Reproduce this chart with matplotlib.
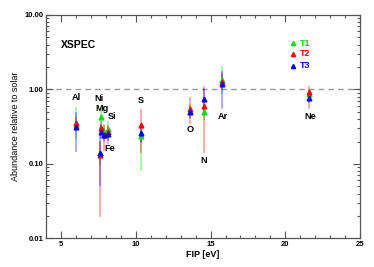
import matplotlib
matplotlib.use("Agg")
import matplotlib.pyplot as plt
from matplotlib.ticker import FixedLocator, LogLocator, MultipleLocator, FixedFormatter

plt.rcParams["font.family"] = ["Liberation Sans", "DejaVu Sans"]

# element, FIP [eV]
elements = ["Al", "Ni", "Mg", "Fe", "Si", "S", "O", "N", "Ar", "Ne"]
fip = [5.99, 7.64, 7.65, 7.87, 8.15, 10.36, 13.62, 14.53, 15.76, 21.56]

# abundances for the three temperature components, with lower / upper limits
t1 = [0.33, 0.14, 0.43, 0.27, 0.295, 0.24, 0.52, 0.50, 1.32, 0.86]
t1_lo = [0.22, 0.10, 0.30, 0.22, 0.22, 0.083, 0.42, 0.40, 0.90, 0.75]
t1_hi = [0.57, 0.20, 0.55, 0.32, 0.37, 0.30, 0.62, 0.62, 1.99, 0.98]

t2 = [0.35, 0.13, 0.30, 0.245, 0.27, 0.33, 0.54, 0.60, 1.27, 0.91]
t2_lo = [0.30, 0.02, 0.25, 0.155, 0.19, 0.146, 0.35, 0.146, 1.00, 0.56]
t2_hi = [0.42, 0.20, 0.36, 0.33, 0.32, 0.53, 0.76, 1.09, 1.60, 1.08]

t3 = [0.31, 0.14, 0.27, 0.245, 0.25, 0.263, 0.50, 0.745, 1.19, 0.776]
t3_lo = [0.15, 0.052, 0.22, 0.21, 0.21, 0.20, 0.43, 0.50, 0.56, 0.68]
t3_hi = [0.48, 0.30, 0.33, 0.29, 0.30, 0.33, 0.58, 1.00, 1.70, 0.88]

# label positions (FIP, abundance)
label_x = [6.0, 7.55, 7.75, 8.25, 8.4, 10.36, 13.62, 14.55, 15.85, 21.65]
label_y = [0.79, 0.75, 0.55, 0.16, 0.44, 0.72, 0.287, 0.11, 0.44, 0.44]

series = [("T1", "#00e000", t1, t1_lo, t1_hi),
          ("T2", "#ff0000", t2, t2_lo, t2_hi),
          ("T3", "#0000ff", t3, t3_lo, t3_hi)]


def main():
    fig = plt.figure(figsize=(3.74, 2.67), dpi=100)
    ax = fig.add_axes([0.123, 0.107, 0.840, 0.837])

    ax.axhline(1.0, color="#999999", lw=1.0, ls=(0, (4, 3)), zorder=1)

    for name, col, val, lo, hi in series:
        for x, v, l, h in zip(fip, val, lo, hi):
            ax.plot([x, x], [l, h], color=col, alpha=0.35, lw=1.3, zorder=2)
        ax.plot(fip, val, ls="none", marker="^", ms=3.4, color=col,
                mec=col, zorder=3)

    for el, x, y in zip(elements, label_x, label_y):
        ax.text(x, y, el, ha="center", va="center", fontsize=6.6,
                fontweight="bold")

    ax.text(5.0, 4.0, "XSPEC", ha="left", va="center", fontsize=7.5,
            fontweight="bold")

    # legend drawn as markers + coloured text
    for i, (name, col, *_rest) in enumerate(series):
        yl = [4.2, 3.0, 2.07][i]
        ax.plot([20.52], [yl], ls="none", marker="^", ms=3.0, color=col)
        ax.text(20.95, yl, name, color=col, fontsize=6.5, fontweight="bold",
                ha="left", va="center")

    ax.set_xlim(4, 25)
    ax.set_yscale("log")
    ax.set_ylim(0.01, 10)

    ax.xaxis.set_major_locator(MultipleLocator(5))
    ax.xaxis.set_minor_locator(MultipleLocator(1))
    ax.yaxis.set_major_locator(FixedLocator([0.01, 0.1, 1, 10]))
    ax.yaxis.set_major_formatter(FixedFormatter(["0.01", "0.10", "1.00", "10.00"]))
    ax.yaxis.set_minor_locator(LogLocator(base=10, subs=range(2, 10)))
    ax.yaxis.set_minor_formatter(FixedFormatter([]))

    ax.tick_params(which="both", direction="in", top=True, right=True,
                   color="#555555", width=0.8)
    ax.tick_params(which="major", length=5, labelsize=5.5, pad=2)
    ax.tick_params(which="minor", length=2.5)
    for lab in ax.get_xticklabels() + ax.get_yticklabels():
        lab.set_fontweight("bold")
    for s in ax.spines.values():
        s.set_color("#555555")
        s.set_linewidth(0.9)

    ax.set_xlabel("FIP [eV]", fontsize=6.5, fontweight="bold", labelpad=1)
    ax.set_ylabel("Abundance relative to solar", fontsize=6.5, labelpad=3)

    fig.savefig("out.png", dpi=100)
    plt.close()


if __name__ == "__main__":
    main()
